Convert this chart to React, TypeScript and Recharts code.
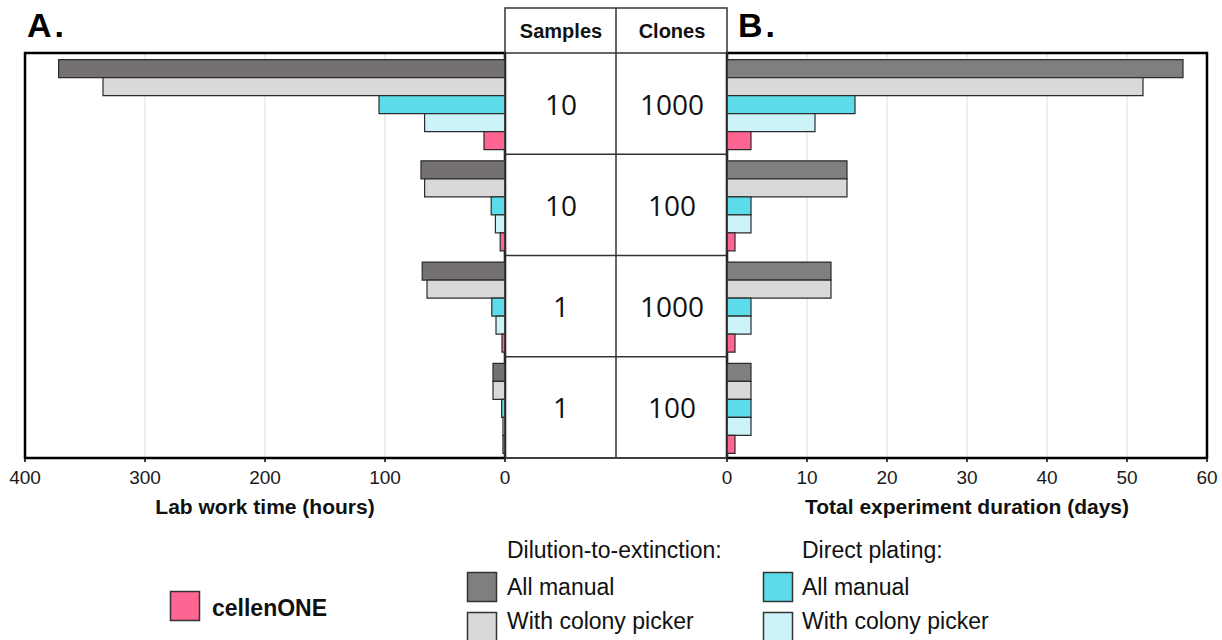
import React from "react";
import { Bar, BarChart, CartesianGrid, Label, ReferenceArea, XAxis, YAxis } from "recharts";

// four scenarios, top to bottom
const groups = [ "10x1000", "10x100", "1x1000", "1x100" ];
const samples = [ 10, 10, 1, 1 ];
const clones = [ 1000, 100, 1000, 100 ];

// A. lab work time (hours)
const dteManualHours = [ 372, 70, 69, 10 ];
const dtePickerHours = [ 335, 67, 65, 10 ];
const dpManualHours = [ 105, 11.5, 11, 2.8 ];
const dpPickerHours = [ 67, 8, 7.5, 1.7 ];
const cellenoneHours = [ 17.5, 4, 2.5, 1.7 ];

// B. total experiment duration (days)
const dteManualDays = [ 57, 15, 13, 3 ];
const dtePickerDays = [ 52, 15, 13, 3 ];
const dpManualDays = [ 16, 3, 3, 3 ];
const dpPickerDays = [ 11, 3, 3, 3 ];
const cellenoneDays = [ 3, 1, 1, 1 ];

const hourTicks = [ 0, 100, 200, 300, 400 ];
const dayTicks = [ 0, 10, 20, 30, 40, 50, 60 ];

const SERIES = [ "dteManual", "dtePicker", "dpManual", "dpPicker", "cellenone" ];
const COLORS = {
    dteManualA: "#757171",
    dteManual: "#7f7f7f",
    dtePicker: "#d9d9d9",
    dpManual: "#5cdcea",
    dpPicker: "#ccf4f8",
    cellenone: "#fd6593",
};

const FONT = "'Liberation Sans', Arial, sans-serif";

const hoursData = groups.map(( g, i ) => ({
    group: g,
    dteManual: dteManualHours[i],
    dtePicker: dtePickerHours[i],
    dpManual: dpManualHours[i],
    dpPicker: dpPickerHours[i],
    cellenone: cellenoneHours[i],
}));

const daysData = groups.map(( g, i ) => ({
    group: g,
    dteManual: dteManualDays[i],
    dtePicker: dtePickerDays[i],
    dpManual: dpManualDays[i],
    dpPicker: dpPickerDays[i],
    cellenone: cellenoneDays[i],
}));

function Panel( { data, ticks, reversed, label, margin, darkColor } ) {
    const max = ticks[ticks.length - 1];
    return (
      <BarChart
        layout="vertical"
        width={540}
        height={530}
        data={data}
        margin={margin}
        barCategoryGap="6.5%"
        barGap={0}
      >
          <CartesianGrid horizontal={false} stroke="#dedede" strokeWidth={1}/>
          <XAxis
            type="number"
            domain={[ 0, max ]}
            ticks={ticks}
            reversed={reversed}
            height={30}
            axisLine={false}
            tickSize={4}
            tickMargin={9}
            tickLine={{ stroke: "#000", strokeWidth: 1.5 }}
            tick={{ fontSize: 19, fill: "#1a1a1a", fontFamily: FONT }}
            interval={0}
          >
              <Label
                value={label}
                position="bottom"
                offset={11}
                style={{ fontSize: 21, fontWeight: "bold", fill: "#111", fontFamily: FONT }}
              />
          </XAxis>
          <YAxis type="category" dataKey="group" hide/>
          {SERIES.map(( key ) => (
            <Bar
              key={key}
              dataKey={key}
              fill={key === "dteManual" ? darkColor : COLORS[key]}
              stroke="#2b2b2b"
              strokeWidth={1.2}
              isAnimationActive={false}
            />
          ))}
          <ReferenceArea x1={0} x2={max} fill="none" fillOpacity={0} stroke="#000" strokeWidth={2.5} ifOverflow="visible"/>
      </BarChart>
    );
}

function Table() {
    const headerH = 45;
    const rowH = (450 - headerH) / samples.length;
    return (
      <svg width={224} height={452} style={{ position: "absolute", left: 504, top: 7 }}>
          <g transform="translate(1,1)">
              <g fill="none" stroke="#333" strokeWidth={1.5}>
                  <rect x={0} y={0} width={222} height={450}/>
                  <line x1={111} y1={0} x2={111} y2={450}/>
                  {[ 0, ...samples ].map(( _, i ) => (
                    <line key={i} x1={0} x2={222} y1={headerH + i * rowH} y2={headerH + i * rowH}/>
                  ))}
              </g>
              <g fontFamily={FONT} fontWeight="bold" fontSize={20} fill="#111" textAnchor="middle">
                  <text x={56} y={30}>Samples</text>
                  <text x={167} y={30}>Clones</text>
              </g>
              <g fontFamily="'Open Sans', sans-serif" fontSize={28} fill="#111" textAnchor="middle">
                  {samples.map(( s, i ) => (
                    <text key={"s" + i} x={56} y={headerH + i * rowH + rowH / 2 + 11}>{s}</text>
                  ))}
                  {clones.map(( c, i ) => (
                    <text key={"c" + i} x={167} y={headerH + i * rowH + rowH / 2 + 11}>{c}</text>
                  ))}
              </g>
          </g>
      </svg>
    );
}

function LegendBlock() {
    const box = ( x, y, color ) => (
      <rect x={x} y={y} width={29} height={29} fill={color} stroke="#333" strokeWidth={1.5}/>
    );
    return (
      <svg width={1222} height={110} style={{ position: "absolute", left: 0, top: 530 }}>
          <g fontFamily={FONT} fontSize={23} fill="#111">
              <text x={507} y={28}>Dilution-to-extinction:</text>
              <text x={802} y={28}>Direct plating:</text>
              <text x={507} y={65}>All manual</text>
              <text x={802} y={65}>All manual</text>
              <text x={507} y={99}>With colony picker</text>
              <text x={802} y={99}>With colony picker</text>
          </g>
          <text x={212} y={86} fontFamily={FONT} fontSize={23} fontWeight="bold" fill="#111">cellenONE</text>
          {box(170.5, 61.5, COLORS.cellenone)}
          {box(467.5, 42.5, COLORS.dteManual)}
          {box(467.5, 82.5, COLORS.dtePicker)}
          {box(763.5, 42.5, COLORS.dpManual)}
          {box(763.5, 82.5, COLORS.dpPicker)}
      </svg>
    );
}

export default function App() {
    return (
      <div style={{ position: "absolute", left: 0, top: 0, width: 1222, height: 640, background: "#fff", fontFamily: FONT }}>
          <div style={{ position: "absolute", left: 27, top: 6, fontSize: 34, fontWeight: "bold", letterSpacing: 3, color: "#000" }}>A.</div>
          <div style={{ position: "absolute", left: 738, top: 6, fontSize: 34, fontWeight: "bold", letterSpacing: 3, color: "#000" }}>B.</div>
          <div style={{ position: "absolute", left: 0, top: 0 }}>
              <Panel
                data={hoursData}
                ticks={hourTicks}
                reversed
                label="Lab work time (hours)"
                margin={{ top: 53, right: 35, bottom: 42, left: 25 }}
                darkColor={COLORS.dteManualA}
              />
          </div>
          <div style={{ position: "absolute", left: 700, top: 0 }}>
              <Panel
                data={daysData}
                ticks={dayTicks}
                reversed={false}
                label="Total experiment duration (days)"
                margin={{ top: 53, right: 33, bottom: 42, left: 27 }}
                darkColor={COLORS.dteManual}
              />
          </div>
          <Table/>
          <LegendBlock/>
      </div>
    );
}
